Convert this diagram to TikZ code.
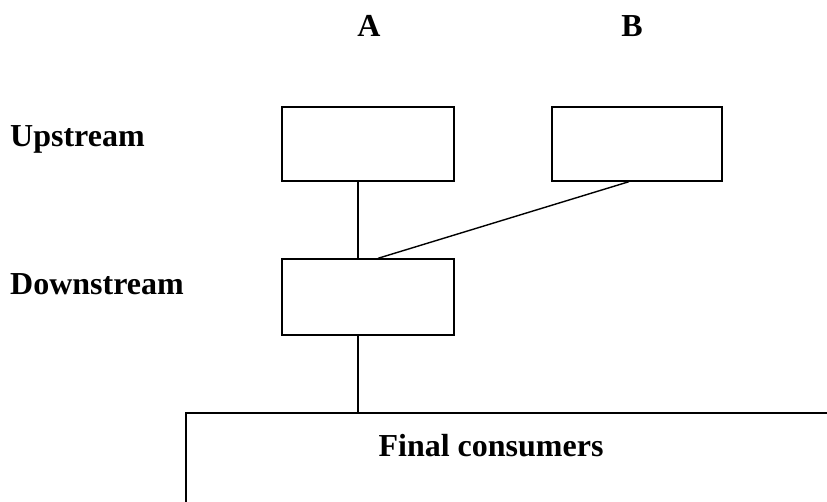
\documentclass[tikz,border=0pt]{standalone}
\usepackage{fontspec}
\setmainfont{Liberation Serif}
\usetikzlibrary{calc}
\tikzset{
  box/.style={draw=black, line width=1.4pt, minimum width=#1, inner sep=0pt},
  link/.style={draw=black, line width=1.4pt},
  lbl/.style={font=\bfseries\fontsize{32}{38}\selectfont, inner sep=0pt}
}
\begin{document}
\begin{tikzpicture}[x=1pt,y=-1pt]
\useasboundingbox (0,0) rectangle (827,502);
\clip (0,0) rectangle (827,502);
% column labels
\node[lbl, anchor=base] (labA) at (369,37) {A};
\node[lbl, anchor=base] (labB) at (632,37) {B};
% row labels
\node[lbl, anchor=base west] (labUp) at (10,147) {Upstream};
\node[lbl, anchor=base west] (labDown) at (10,295) {Downstream};
% boxes
\node[box=172pt, minimum height=74pt] (Aup) at (368,144) {};
\node[box=170pt, minimum height=74pt] (Bup) at (637,144) {};
\node[box=172pt, minimum height=76pt] (Down) at (368,297) {};
\node[box=714pt, minimum height=147pt] (Final) at (543,486.5) {};
\node[lbl, anchor=base] (finalText) at (491,456) {Final consumers};
% connectors
\coordinate (aS) at ($(Aup.south west)!0.442!(Aup.south east)$);
\coordinate (bS) at ($(Bup.south west)!0.453!(Bup.south east)$);
\coordinate (dN) at ($(Down.north west)!0.442!(Down.north east)$);
\coordinate (dN2) at ($(Down.north west)!0.558!(Down.north east)$);
\coordinate (dS) at ($(Down.south west)!0.442!(Down.south east)$);
\draw[link] (aS) -- (dN);
\draw[link] (bS) -- (dN2);
\draw[link] (dS) -- (dS |- Final.north);
\end{tikzpicture}
\end{document}
